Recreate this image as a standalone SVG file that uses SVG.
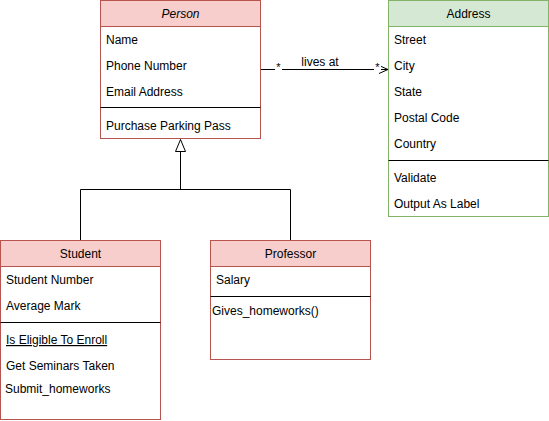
<svg xmlns="http://www.w3.org/2000/svg" width="549" height="421" viewBox="0 0 549 421">
<style>
text{font-family:"Liberation Sans",Arial,sans-serif;font-size:12px;fill:#000}
.t{text-anchor:middle}
.box{fill:#fff}
.red{stroke:#b85450}
.redh{fill:#f8cecc;stroke:#b85450}
.grn{stroke:#82b366}
.grnh{fill:#d5e8d4;stroke:#82b366}
.sep{stroke:#000;stroke-width:1}
.edge{fill:none;stroke:#000;stroke-width:1}
.lbg{fill:#fff}
</style>
<defs>
<marker id="tri" markerWidth="14" markerHeight="14" refX="13" refY="6" orient="auto" markerUnits="userSpaceOnUse">
<path d="M1,1 L13,6 L1,11 Z" fill="#fff" stroke="#000"/>
</marker>
<marker id="open" markerWidth="12" markerHeight="12" refX="10" refY="5" orient="auto" markerUnits="userSpaceOnUse">
<path d="M1,1 L10,5 L1,9" fill="none" stroke="#000"/>
</marker>
</defs>
<g id="connectors">
<path class="edge" d="M80.5,240 V189.5 H290.5 V240"/>
<path class="edge" d="M180.5,189.5 V139.5" marker-end="url(#tri)"/>
<path class="edge" d="M261,69.5 H388" marker-end="url(#open)"/>
<rect x="275" y="63" width="7" height="8" class="lbg"/>
<text x="278.5" y="71" class="t" style="font-size:11px">*</text>
<text x="320" y="66" class="t">lives at</text>
<rect x="374" y="63" width="7" height="8" class="lbg"/>
<text x="377.5" y="71" class="t" style="font-size:11px">*</text>
</g>
<g id="person">
<rect x="100.5" y="0.5" width="160" height="138" class="box red"/>
<rect x="100.5" y="0.5" width="160" height="26" class="redh"/>
<text x="180.5" y="18" class="t" font-style="italic">Person</text>
<text x="106" y="44">Name</text>
<text x="106" y="70">Phone Number</text>
<text x="106" y="96">Email Address</text>
<line x1="100.5" y1="107.5" x2="260.5" y2="107.5" class="sep"/>
<text x="106" y="130">Purchase Parking Pass</text>
</g>
<g id="address">
<rect x="388.5" y="0.5" width="160" height="216" class="box grn"/>
<rect x="388.5" y="0.5" width="160" height="26" class="grnh"/>
<text x="468.5" y="18" class="t">Address</text>
<text x="394" y="44">Street</text>
<text x="394" y="70">City</text>
<text x="394" y="96">State</text>
<text x="394" y="122">Postal Code</text>
<text x="394" y="148">Country</text>
<line x1="388.5" y1="160.5" x2="548.5" y2="160.5" class="sep"/>
<text x="394" y="182">Validate</text>
<text x="394" y="208">Output As Label</text>
</g>
<g id="student">
<rect x="0.5" y="240.5" width="160" height="179" class="box red"/>
<rect x="0.5" y="240.5" width="160" height="26" class="redh"/>
<text x="80.5" y="258" class="t">Student</text>
<text x="6" y="284">Student Number</text>
<text x="6" y="310">Average Mark</text>
<line x1="0.5" y1="322.5" x2="160.5" y2="322.5" class="sep"/>
<text x="6" y="344" text-decoration="underline">Is Eligible To Enroll</text>
<text x="6" y="370">Get Seminars Taken</text>
<text x="5" y="393">Submit_homeworks</text>
</g>
<g id="professor">
<rect x="210.5" y="240.5" width="160" height="119" class="box red"/>
<rect x="210.5" y="240.5" width="160" height="26" class="redh"/>
<text x="290.5" y="258" class="t">Professor</text>
<text x="216" y="284">Salary</text>
<line x1="210.5" y1="296.5" x2="370.5" y2="296.5" class="sep"/>
<text x="212" y="315">Gives_homeworks()</text>
</g>
</svg>
